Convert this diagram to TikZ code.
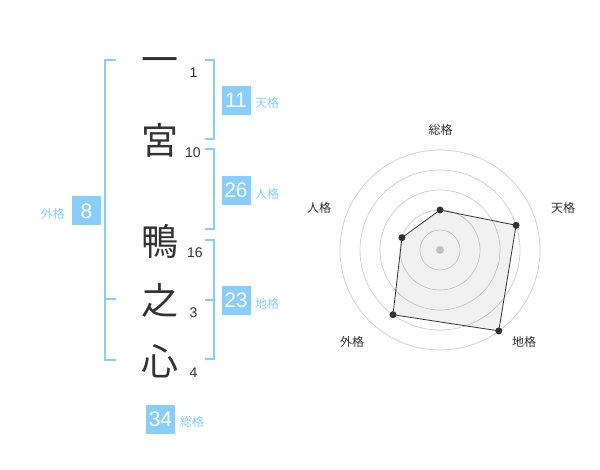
\documentclass[tikz,border=0pt]{standalone}
\usepackage{fontspec}
\usetikzlibrary{calc}
\setmainfont{Liberation Sans}
\newfontfamily\cjk{Noto Sans CJK JP}
\definecolor{sky}{HTML}{87CEFA}
\definecolor{ink}{HTML}{333333}
\definecolor{ring}{HTML}{CCCCCC}
\begin{document}
\begin{tikzpicture}[x=1pt,y=-1pt,
  brk/.style={draw=sky,line width=2pt},
  kanji/.style={font=\cjk\fontsize{37}{37}\selectfont,text=ink,inner sep=0pt,anchor=center,text height=32.6pt,text depth=4.4pt},
  stroke/.style={font=\fontsize{14}{14}\selectfont,text=ink,inner sep=0pt},
  valbox/.style={fill=sky,text=white,minimum width=29pt,minimum height=29pt,inner sep=0pt,font=\fontsize{21}{21}\selectfont},
  kaku/.style={font=\cjk\fontsize{12}{12}\selectfont,text=sky,inner sep=0pt},
  rlabel/.style={font=\cjk\fontsize{12}{12}\selectfont,text=ink,inner sep=0pt},
  dot/.style={circle,fill=ink,inner sep=0pt,minimum size=7pt}]
\useasboundingbox (0,0) rectangle (600,470);
% characters
\node[kanji] (c1) at (160,59) {一};
\node[kanji] (c2) at (160,140) {宮};
\node[kanji] (c3) at (160,241) {鴨};
\node[kanji] (c4) at (160,300) {之};
\node[kanji] (c5) at (160,361) {心};
% stroke counts
\node[stroke] (n1) at (193.5,73) {1};
\node[stroke] (n2) at (193,153) {10};
\node[stroke] (n3) at (195,253) {16};
\node[stroke] (n4) at (193.5,313) {3};
\node[stroke] (n5) at (193.5,373) {4};
% left bracket
\draw[brk] (116,60) -- (105,60) -- (105,360) -- (116,360);
\draw[brk] (105,299) -- (116,299);
% right brackets
\draw[brk] (205,60) -- (214,60) -- (214,139) -- (205,139);
\draw[brk] (205,149) -- (214,149) -- (214,229) -- (205,229);
\draw[brk] (205,240) -- (214,240) -- (214,359) -- (205,359);
\draw[brk] (205,300) -- (214,300);
% value boxes
\node[valbox] (ten) at (236,100.5) {11};
\node[kaku,anchor=west] (tenl) at (255,103) {天格};
\node[valbox] (jin) at (236,190.5) {26};
\node[kaku,anchor=west] (jinl) at (255,193.5) {人格};
\node[valbox] (chi) at (236,300.5) {23};
\node[kaku,anchor=west] (chil) at (255,303.5) {地格};
\node[valbox] (gai) at (86.5,211) {8};
\node[kaku,anchor=east] (gail) at (65,213.5) {外格};
\node[valbox] (sou) at (160.5,419) {34};
\node[kaku,anchor=west] (soul) at (180,422) {総格};
% radar
\coordinate (o) at (440,250);
\foreach \r in {20,40,60,80,100} \draw[ring,line width=0.7pt] (o) circle (\r);
\fill[ring] (o) circle (4);
\coordinate (p1) at ($(o)+(-90:40)$);
\coordinate (p2) at ($(o)+(-18:80)$);
\coordinate (p3) at ($(o)+(54:100)$);
\coordinate (p4) at ($(o)+(126:80)$);
\coordinate (p5) at ($(o)+(198:40)$);
\fill[ink,opacity=0.07] (p1) -- (p2) -- (p3) -- (p4) -- (p5) -- cycle;
\draw[ink,line width=0.8pt] (p1) -- (p2) -- (p3) -- (p4) -- (p5) -- cycle;
\foreach \p in {p1,p2,p3,p4,p5} \node[dot] at (\p) {};
\node[rlabel] (r1) at (440.5,130) {総格};
\node[rlabel] (r2) at (563,208) {天格};
\node[rlabel] (r3) at (524,342) {地格};
\node[rlabel] (r4) at (352,342) {外格};
\node[rlabel] (r5) at (319,208) {人格};
\end{tikzpicture}
\end{document}
